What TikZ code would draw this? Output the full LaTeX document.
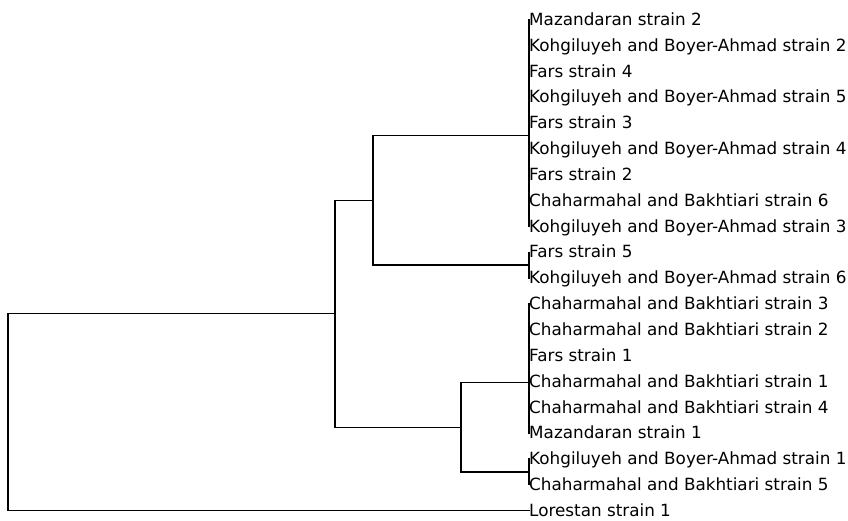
\documentclass[tikz,border=0pt]{standalone}
\usepackage{tikz}
\usepackage{xcolor}
\usepackage{fontspec}
\setmainfont{DejaVu Sans}

\tikzset{
	link/.style={draw=black,line width=1.2pt,line cap=rect},
	leaflabel/.style={anchor=base west,inner sep=0pt,yshift=-5.8pt,
		font=\fontsize{16.8}{20}\selectfont}
}

\begin{document}
\begin{tikzpicture}[x=1pt,y=1pt]
			\useasboundingbox (0,0) rectangle (848,-520);
			% leaves
			\foreach \name [count=\i from 0] in {
				Mazandaran strain 2,
				Kohgiluyeh and Boyer-Ahmad strain 2,
				Fars strain 4,
				Kohgiluyeh and Boyer-Ahmad strain 5,
				Fars strain 3,
				Kohgiluyeh and Boyer-Ahmad strain 4,
				Fars strain 2,
				Chaharmahal and Bakhtiari strain 6,
				Kohgiluyeh and Boyer-Ahmad strain 3,
				Fars strain 5,
				Kohgiluyeh and Boyer-Ahmad strain 6,
				Chaharmahal and Bakhtiari strain 3,
				Chaharmahal and Bakhtiari strain 2,
				Fars strain 1,
				Chaharmahal and Bakhtiari strain 1,
				Chaharmahal and Bakhtiari strain 4,
				Mazandaran strain 1,
				Kohgiluyeh and Boyer-Ahmad strain 1,
				Chaharmahal and Bakhtiari strain 5,
				Lorestan strain 1}
			{
				\coordinate (lf\i) at (529,{-(19.5+25.85*\i)});
				\node[leaflabel] (lbl\i) at (lf\i) {\name};
			}
			% cluster heights
			\coordinate (a1) at (529,-135.5);
			\coordinate (a2) at (529,-265);
			\coordinate (b1) at (529,-382.5);
			\coordinate (b2) at (529,-471.9);
			\coordinate (na) at (373,-200.3);
			\coordinate (nb) at (461,-427.2);
			\coordinate (nab) at (335,-313.8);
			\coordinate (nroot) at (8,-414);
			% links
			\draw[link] (lf0) -- (lf8);
			\draw[link] (lf9) -- (lf10);
			\draw[link] (lf11) -- (lf16);
			\draw[link] (lf17) -- (lf18);
			\draw[link] (a1) -| (na) |- (a2);
			\draw[link] (b1) -| (nb) |- (b2);
			\draw[link] (na) -| (nab) |- (nb);
			\draw[link] (nab) -| (nroot) |- (lf19);
		\end{tikzpicture}
\end{document}
